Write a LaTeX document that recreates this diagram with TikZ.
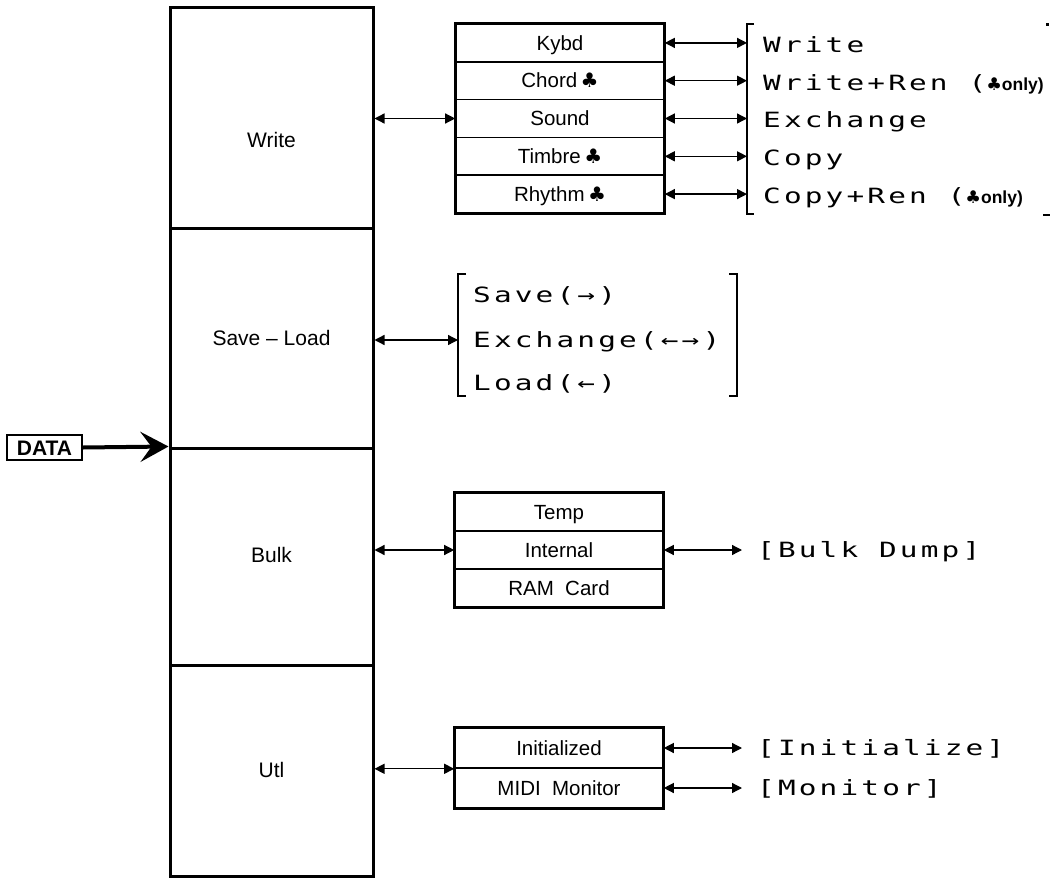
\documentclass[tikz,border=0pt]{standalone}
\usepackage{fontspec}
\setmainfont{Liberation Sans}
\newfontfamily\clubfont{DejaVu Sans}
\newfontfamily\dmfont[FakeStretch=1.4,LetterSpace=15]{DejaVu Sans Mono}
\usetikzlibrary{arrows.meta}
\newcommand{\club}{{\clubfont\fontsize{20}{20}\selectfont ♣}}
\newcommand{\clubonly}{{\normalfont\bfseries\fontsize{17.5}{17.5}\selectfont{\clubfont\bfseries ♣}only)}}
\begin{document}
\begin{tikzpicture}[x=1pt,y=-1pt,
  colcell/.style={draw, line width=3pt, minimum width=203pt, inner sep=0pt},
  collabel/.style={font=\fontsize{21}{21}\selectfont, inner sep=0pt, text height=15pt, text depth=0pt},
  cell/.style={draw, line width=1.6pt, minimum width=208pt, minimum height=37.8pt, inner sep=0pt, font=\fontsize{20.5}{20.5}\selectfont, text height=14.5pt, text depth=0pt},
  outer/.style={draw, line width=3pt},
  dbl/.style={line width=1.3pt, {Triangle[length=10pt,width=10pt]}-{Triangle[length=10pt,width=10pt]}},
  brk/.style={line width=2pt},
  dm/.style={anchor=west, inner sep=0pt, font=\dmfont\fontsize{21}{21}\selectfont, text height=15pt, text depth=0pt},
]
\useasboundingbox (0,0) rectangle (1050,883);

% main column
\node[colcell, minimum height=220pt] (cW) at (271.5,118) {};
\node[colcell, minimum height=220pt] (cS) at (271.5,338) {};
\node[colcell, minimum height=217pt] (cB) at (271.5,556.5) {};
\node[colcell, minimum height=211pt] (cU) at (271.5,770.5) {};
\node[collabel] (tW) at (271.5,140) {Write};
\node[collabel] (tS) at (271.5,338) {Save -- Load};
\node[collabel] (tB) at (271.5,555) {Bulk};
\node[collabel] (tU) at (271.5,770) {Utl};

% DATA input
\node[draw, line width=2pt, font=\bfseries\fontsize{21}{21}\selectfont, minimum width=75pt, minimum height=25pt, inner sep=0pt, text height=15pt, text depth=0pt] (data) at (44.5,447.5) {DATA};
\draw[line width=4pt, -{Stealth[length=28pt,width=30pt,inset=11pt]}] (data.east) -- (cB.north west);

% Write menu
\node[cell] (mK) at (560,42.9) {Kybd};
\node[cell] (mC) at (560,80.7) {Chord\,\club};
\node[cell] (mS) at (560,118.5) {Sound};
\node[cell] (mT) at (560,156.3) {Timbre\,\club};
\node[cell] (mR) at (560,194.1) {Rhythm\,\club};
\draw[outer] (mK.north west) rectangle (mR.south east);
\draw[dbl] (cW.east |- mS.west) -- (mS.west);

\coordinate (wb1) at (747,24);
\coordinate (wb2) at (747,214);
\draw[brk] (754,24) -- (wb1) -- (wb2) -- (754,214);
\node[dm] (oW) at (763,45) {Write};
\node[dm] (oWR) at (763,83) {Write+Ren (\clubonly};
\node[dm] (oE) at (763,120.5) {Exchange};
\node[dm] (oC) at (763,158) {Copy};
\node[dm] (oCR) at (763,196) {Copy+Ren (\clubonly};
\foreach \r in {mK,mC,mS,mT,mR}{
  \draw[dbl] (\r.east) -- (\r.east -| wb1);
}
\fill (1045.5,23.5) rectangle (1048.5,26.5);
\draw[line width=2pt] (1043,215) -- (1050,215);

% Save - Load
\coordinate (sb1) at (458,274);
\coordinate (sb2) at (458,396);
\coordinate (sb3) at (737,274);
\coordinate (sb4) at (737,396);
\draw[brk] (466,274) -- (sb1) -- (sb2) -- (466,396);
\draw[brk] (729,274) -- (sb3) -- (sb4) -- (729,396);
\node[dm] (sv) at (473,295) {Save(→)};
\node[dm] (ex) at (473,340) {Exchange(←→)};
\node[dm] (ld) at (473,383) {Load(←)};
\draw[dbl] (cS.east |- ex.west) -- (ex.west -| sb1);

% Bulk
\node[cell, minimum height=38pt] (bT) at (559,512) {Temp};
\node[cell, minimum height=38pt] (bI) at (559,550) {Internal};
\node[cell, minimum height=38pt] (bR) at (559,588) {RAM\ \ Card};
\draw[outer] (bT.north west) rectangle (bR.south east);
\draw[dbl] (cB.east |- bI.west) -- (bI.west);
\node[dm] (bd) at (757,550) {[Bulk Dump]};
\draw[dbl] (bI.east) -- ([xshift=-15pt]bd.west);

% Utl
\node[cell, minimum height=40pt] (uI) at (559,748) {Initialized};
\node[cell, minimum height=40pt] (uM) at (559,788) {MIDI\ \ Monitor};
\draw[outer] (uI.north west) rectangle (uM.south east);
\draw[dbl] (cU.east |- uI.south west) -- (uI.south west);
\node[dm] (ini) at (757,748) {[Initialize]};
\node[dm] (mon) at (757,788) {[Monitor]};
\draw[dbl] (uI.east) -- ([xshift=-15pt]ini.west);
\draw[dbl] (uM.east) -- ([xshift=-15pt]mon.west);
\end{tikzpicture}
\end{document}
